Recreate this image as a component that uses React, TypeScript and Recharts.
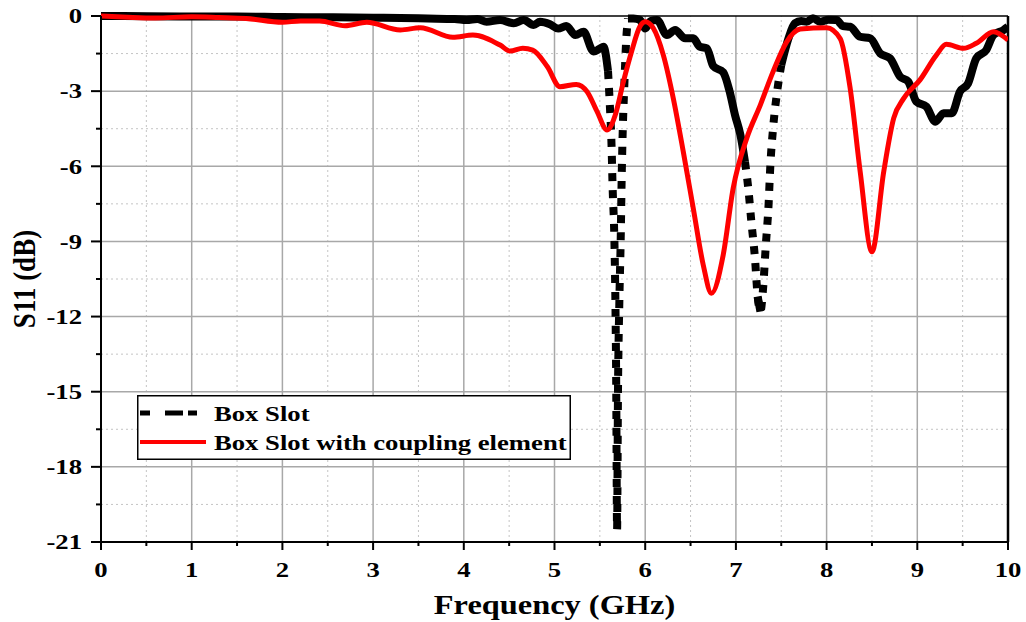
import React from 'react';
import { LineChart, Line, XAxis, YAxis, ReferenceLine, Legend } from 'recharts';

// Box Slot: frequency (GHz) and S11 (dB)
const boxSlotFreq = [
  0, 0.5, 1.0, 1.5, 2.0, 2.5, 3.0, 3.3, 3.6, 3.9, 4.03, 4.15, 4.25, 4.4, 4.55, 4.66, 4.77, 4.84, 4.95,
  5.04, 5.13, 5.23, 5.32, 5.43, 5.5, 5.54, 5.59, 5.61, 5.63, 5.64, 5.66, 5.67, 5.68, 5.69, 5.70, 5.715,
  5.73, 5.74, 5.75, 5.77, 5.79, 5.81, 5.87, 5.94, 6.0, 6.06, 6.13, 6.24, 6.33, 6.44, 6.53, 6.6, 6.68,
  6.75, 6.86, 6.93, 6.99, 7.05, 7.1, 7.14, 7.17, 7.21, 7.24, 7.27, 7.3, 7.33, 7.36, 7.38, 7.41, 7.45,
  7.5, 7.58, 7.65, 7.72, 7.78, 7.85, 7.93, 8.02, 8.11, 8.18, 8.26, 8.37, 8.48, 8.59, 8.7, 8.81, 8.9,
  8.99, 9.1, 9.2, 9.29, 9.38, 9.47, 9.56, 9.65, 9.76, 9.84, 9.95, 10.0,
];
const boxSlotS11 = [
  0, -0.01, -0.02, -0.02, -0.04, -0.05, -0.07, -0.08, -0.1, -0.12, -0.16, -0.12, -0.23, -0.16, -0.29,
  -0.16, -0.36, -0.23, -0.33, -0.5, -0.4, -0.76, -0.63, -1.42, -1.3, -1.23, -2.2, -3.55, -5.3, -6.75,
  -8.9, -11.0, -14.5, -20.5, -15.0, -11.4, -8.9, -6.6, -4.9, -2.75, -1.0, -0.1, -0.1, -0.15, -0.5,
  -0.2, -0.16, -0.76, -0.56, -0.89, -0.89, -1.22, -1.29, -2.0, -2.25, -3.0, -3.95, -4.75, -5.82, -7.0,
  -8.2, -9.66, -11.2, -11.8, -10.86, -9.14, -7.55, -5.95, -4.48, -3.15, -1.96, -0.89, -0.29, -0.2,
  -0.23, -0.09, -0.23, -0.15, -0.16, -0.4, -0.43, -0.83, -0.89, -1.49, -1.69, -2.42, -2.62, -3.42,
  -3.62, -4.22, -3.88, -3.88, -3.02, -2.69, -1.69, -1.36, -0.76, -0.56, -0.43,
];

// Box Slot with coupling element: frequency (GHz) and S11 (dB)
const couplingFreq = [
  0, 0.3, 0.6, 1.0, 1.3, 1.6, 2.0, 2.2, 2.41, 2.69, 2.93, 3.3, 3.52, 3.88, 4.1, 4.4, 4.51, 4.65, 4.76,
  4.92, 5.06, 5.24, 5.36, 5.47, 5.58, 5.67, 5.76, 5.85, 5.94, 6.0, 6.09, 6.2, 6.31, 6.42, 6.53, 6.64,
  6.73, 6.86, 6.97, 7.12, 7.27, 7.41, 7.56, 7.71, 8.0, 8.15, 8.26, 8.37, 8.5, 8.63, 8.74, 8.85, 9.03,
  9.21, 9.32, 9.51, 9.65, 9.84, 10.0,
];
const couplingS11 = [
  0, -0.05, -0.08, -0.03, -0.06, -0.1, -0.25, -0.2, -0.2, -0.39, -0.25, -0.56, -0.47, -0.85, -0.76,
  -1.16, -1.4, -1.29, -1.36, -2.02, -2.82, -2.73, -3.02, -3.82, -4.55, -3.95, -2.62, -1.42, -0.43,
  -0.23, -0.49, -1.56, -3.29, -5.42, -7.68, -9.94, -11.07, -9.54, -6.88, -4.88, -3.55, -2.22, -1.03,
  -0.52, -0.47, -0.9, -2.89, -6.21, -9.41, -6.21, -4.08, -3.29, -2.55, -1.56, -1.13, -1.29, -1.09,
  -0.63, -0.96,
];

const seriesNames = ['Box Slot', 'Box Slot with coupling element'];
const xTitle = 'Frequency (GHz)';
const yTitle = 'S11 (dB)';

const xTicks = [0, 0.5, 1, 1.5, 2, 2.5, 3, 3.5, 4, 4.5, 5, 5.5, 6, 6.5, 7, 7.5, 8, 8.5, 9, 9.5, 10];
const yTicks = [0, -1.5, -3, -4.5, -6, -7.5, -9, -10.5, -12, -13.5, -15, -16.5, -18, -19.5, -21];
const xMajorGrid = [1, 2, 3, 4, 5, 6, 7, 8, 9];
const xMinorGrid = [0.5, 1.5, 2.5, 3.5, 4.5, 5.5, 6.5, 7.5, 8.5, 9.5];
const yMajorGrid = [-3, -6, -9, -12, -15, -18];
const yMinorGrid = [-1.5, -4.5, -7.5, -10.5, -13.5, -16.5, -19.5];

const FONT = "'Liberation Serif', 'Times New Roman', serif";
const STRETCH = 1.27;

// Segments steeper than this (dB per GHz) are drawn with the dotted pattern,
// the way a per-segment dash restarts on a dense sweep.
const STEEP_SLOPE = 22;

const boxSlotData = boxSlotFreq.map((f, i) => {
  const slope = (a: number) =>
    Math.abs((boxSlotS11[a + 1] - boxSlotS11[a]) / (boxSlotFreq[a + 1] - boxSlotFreq[a]));
  const prev = i > 0 ? slope(i - 1) > STEEP_SLOPE : null;
  const next = i < boxSlotFreq.length - 1 ? slope(i) > STEEP_SLOPE : null;
  const steep = prev === true || next === true;
  const flat = prev === false || next === false;
  return { f, flat: flat ? boxSlotS11[i] : null, steep: steep ? boxSlotS11[i] : null };
});

const couplingData = couplingFreq.map((f, i) => ({ f, s11: couplingS11[i] }));

type TextProps = {
  x: number;
  y: number;
  anchor: 'start' | 'middle' | 'end';
  size: number;
  dy?: string;
  children: React.ReactNode;
};

const WideText = ({ x, y, anchor, size, dy, children }: TextProps) => (
  <text
    transform={`translate(${x},${y}) scale(${STRETCH},1)`}
    textAnchor={anchor}
    fontSize={size}
    fontWeight="bold"
    fontFamily={FONT}
    fill="#000"
    dy={dy}
  >
    {children}
  </text>
);

const XTick = (props: any) => {
  const { x, y, payload } = props;
  const major = Number.isInteger(payload.value);
  return (
    <g>
      <line x1={x} x2={x} y1={y} y2={y + (major ? 8 : 4)} stroke="#000" strokeWidth={2} />
      {major && (
        <WideText x={x} y={y + 20} anchor="middle" size={21} dy="0.71em">
          {payload.value}
        </WideText>
      )}
    </g>
  );
};

const YTick = (props: any) => {
  const { x, y, payload } = props;
  const major = payload.value % 3 === 0;
  return (
    <g>
      <line x1={x - (major ? 10 : 5)} x2={x} y1={y} y2={y} stroke="#000" strokeWidth={2} />
      {major && (
        <WideText x={x - 19} y={y} anchor="end" size={21} dy="0.35em">
          {payload.value}
        </WideText>
      )}
    </g>
  );
};

const XTitle = (props: any) => {
  const { x, y, width } = props.viewBox;
  return (
    <text
      transform={`translate(${x + width / 2},${y + 72}) scale(1.2,1)`}
      textAnchor="middle"
      fontSize={27}
      fontWeight="bold"
      fontFamily={FONT}
      fill="#000"
    >
      {xTitle}
    </text>
  );
};

const YTitle = (props: any) => {
  const { y, height } = props.viewBox;
  return (
    <text
      transform={`translate(24,${y + height / 2}) rotate(-90) scale(1,1.2)`}
      textAnchor="middle"
      fontSize={27}
      fontWeight="bold"
      fontFamily={FONT}
      fill="#000"
      dy="0.35em"
    >
      {yTitle}
    </text>
  );
};

const LegendBox = () => (
  <svg width={434} height={65} style={{ display: 'block' }}>
    <rect x={0.75} y={0.75} width={432.5} height={63.5} fill="#fff" stroke="#000" strokeWidth={1.5} />
    <line x1={3} x2={61} y1={18} y2={18} stroke="#000" strokeWidth={5} strokeDasharray="10 15 18 5 9 100" />
    <WideText x={77} y={26} anchor="start" size={21}>
      {seriesNames[0]}
    </WideText>
    <line x1={3} x2={69} y1={47} y2={47} stroke="#ff0000" strokeWidth={4} />
    <WideText x={77} y={55} anchor="start" size={21}>
      {seriesNames[1]}
    </WideText>
  </svg>
);

const minorStyle = { stroke: '#c4c4c4', strokeWidth: 1, strokeDasharray: '2 3' };
const majorStyle = { stroke: '#a8a8a8', strokeWidth: 1.5 };

export default function App() {
  return (
    <div style={{ position: 'absolute', left: 0, top: 0, width: 1026, height: 622, background: '#fff' }}>
      <LineChart width={1026} height={622} margin={{ top: 16, right: 18, bottom: 0, left: 0 }}>
        <XAxis
          dataKey="f"
          type="number"
          domain={[0, 10]}
          ticks={xTicks}
          interval={0}
          height={80}
          tickSize={0}
          tickMargin={0}
          tickLine={false}
          tick={<XTick />}
          axisLine={{ stroke: '#000', strokeWidth: 2 }}
          label={{ content: XTitle }}
          allowDataOverflow
        />
        <YAxis
          type="number"
          domain={[-21, 0]}
          ticks={yTicks}
          interval={0}
          width={101}
          tickSize={0}
          tickMargin={0}
          tickLine={false}
          tick={<YTick />}
          axisLine={{ stroke: '#000', strokeWidth: 2 }}
          label={{ content: YTitle }}
        />
        {xMinorGrid.map((v) => (
          <ReferenceLine key={`xm${v}`} x={v} {...minorStyle} zIndex={-50} />
        ))}
        {yMinorGrid.map((v) => (
          <ReferenceLine key={`ym${v}`} y={v} {...minorStyle} zIndex={-50} />
        ))}
        {xMajorGrid.map((v) => (
          <ReferenceLine key={`xM${v}`} x={v} {...majorStyle} zIndex={-40} />
        ))}
        {yMajorGrid.map((v) => (
          <ReferenceLine key={`yM${v}`} y={v} {...majorStyle} zIndex={-40} />
        ))}
        <ReferenceLine y={0} stroke="#000" strokeWidth={1.5} zIndex={-30} />
        <ReferenceLine x={10} stroke="#000" strokeWidth={2.5} zIndex={-30} />
        <Line
          data={boxSlotData}
          dataKey="flat"
          name={seriesNames[0]}
          type="monotone"
          stroke="#000"
          strokeWidth={8}
          strokeLinejoin="round"
          dot={false}
          activeDot={false}
          connectNulls={false}
          isAnimationActive={false}
        />
        <Line
          data={boxSlotData}
          dataKey="steep"
          name={seriesNames[0]}
          type="monotone"
          stroke="#000"
          strokeWidth={8}
          strokeDasharray="8 9"
          dot={false}
          activeDot={false}
          connectNulls={false}
          isAnimationActive={false}
        />
        <Line
          data={couplingData}
          dataKey="s11"
          name={seriesNames[1]}
          type="monotone"
          stroke="#ff0000"
          strokeWidth={5}
          dot={false}
          activeDot={false}
          isAnimationActive={false}
        />
        <Legend
          content={LegendBox}
          layout="horizontal"
          verticalAlign="middle"
          align="center"
          wrapperStyle={{ left: 137, top: 395, width: 434, height: 65 }}
        />
      </LineChart>
    </div>
  );
}
